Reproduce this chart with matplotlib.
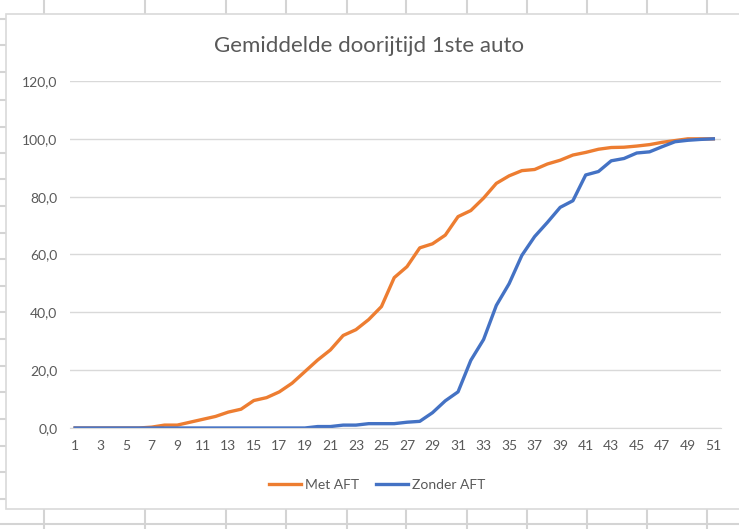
import numpy as np
import matplotlib.pyplot as plt
from matplotlib.lines import Line2D

# Data
runs = list(range(1, 52))
met_aft = [0, 0, 0, 0, 0, 0, 0.3, 1.0, 1.0, 2.0,
           3.0, 4.0, 5.5, 6.5, 9.5, 10.5, 12.5, 15.5, 19.5, 23.5,
           27.0, 32.0, 34.0, 37.5, 42.0, 52.0, 55.8, 62.3, 63.7, 66.7,
           73.1, 75.2, 79.5, 84.6, 87.2, 89.0, 89.4, 91.3, 92.6, 94.4,
           95.3, 96.4, 97.0, 97.1, 97.5, 98.0, 98.8, 99.4, 100.0, 100.0,
           100.0]
zonder_aft = [0, 0, 0, 0, 0, 0, 0, 0, 0, 0,
              0, 0, 0, 0, 0, 0, 0, 0, 0, 0.5,
              0.5, 1.0, 1.0, 1.5, 1.5, 1.5, 2.0, 2.3, 5.3, 9.4,
              12.5, 23.4, 30.6, 42.4, 49.9, 59.7, 66.2, 71.1, 76.3, 78.6,
              87.5, 88.7, 92.4, 93.2, 95.1, 95.5, 97.3, 99.0, 99.5, 99.8,
              100.0]
xtick_labels = [str(r) for r in runs[::2]]

W, H = 739, 529
fig = plt.figure(figsize=(W / 100, H / 100), dpi=100)
fig.patch.set_facecolor('white')

def px(x, y):
    return x / W, 1 - y / H

# spreadsheet cell grid behind the chart
grid_c = '#d4d4d4'
for x in [44, 145, 226, 286, 347, 406, 467, 527, 587, 647, 707]:
    for y0, y1 in [(0, 14), (509, 529)]:
        a, b = px(x, y0)
        _, c = px(x, y1)
        fig.add_artist(Line2D([a, a], [b, c], color=grid_c, lw=1.5, zorder=-20))
for y in [19, 45, 72, 100, 127, 153, 179, 206, 233, 259, 286, 312, 339, 366, 392, 419, 446, 472, 499]:
    a, b = px(0, y)
    c, _ = px(6, y)
    fig.add_artist(Line2D([a, c], [b, b], color=grid_c, lw=1.5, zorder=-20))
a, b = px(0, 524)
c, _ = px(W, 524)
fig.add_artist(Line2D([a, c], [b, b], color=grid_c, lw=1.5, zorder=-20))

# chart border
x0, y0 = px(6, 14)
x1, y1 = px(W + 5, 509)
fig.add_artist(plt.Rectangle((x0, y1), x1 - x0, y0 - y1, fill=True,
                             facecolor='white', edgecolor='#d9d9d9', lw=1.2, zorder=-10))

text_c = '#595959'
font = 'Lato'

ax = fig.add_axes([70 / W, (H - 428) / H, (721 - 70) / W, (428 - 81) / H])
ax.set_zorder(1)
ax.patch.set_alpha(0)
ax.plot(runs, met_aft, color='#ED7D31', lw=2.4, label='Met AFT', solid_joinstyle='round')
ax.plot(runs, zonder_aft, color='#4472C4', lw=2.4, label='Zonder AFT', solid_joinstyle='round')

ax.set_xlim(0.6, 51.6)
ax.set_ylim(0, 120)
ax.set_yticks(np.arange(0, 121, 20))
ax.set_yticklabels([f'{v:.1f}'.replace('.', ',') for v in np.arange(0, 121, 20)],
                   fontsize=10, color=text_c, family=font)
ax.set_xticks(runs[::2])
ax.set_xticklabels(xtick_labels, fontsize=10, color=text_c, family=font)
ax.tick_params(axis='both', length=0, pad=9)
ax.tick_params(axis='x', pad=9)
ax.grid(axis='y', color='#d9d9d9', lw=1)
for s in ['top', 'right', 'left']:
    ax.spines[s].set_visible(False)
ax.spines['bottom'].set_color('#d9d9d9')
ax.set_axisbelow(True)

fig.text(0.5, px(0, 46)[1], 'Gemiddelde doorijtijd 1ste auto', ha='center', va='center',
         fontsize=16, color=text_c, family=font)

fig.legend(loc='center', bbox_to_anchor=(px(377, 0)[0], px(0, 485)[1]), ncol=2, frameon=False,
           prop={'family': font, 'size': 10}, labelcolor=text_c, handlelength=2.3,
           columnspacing=1.2, handletextpad=0.3)

plt.savefig('out.png', dpi=100)
